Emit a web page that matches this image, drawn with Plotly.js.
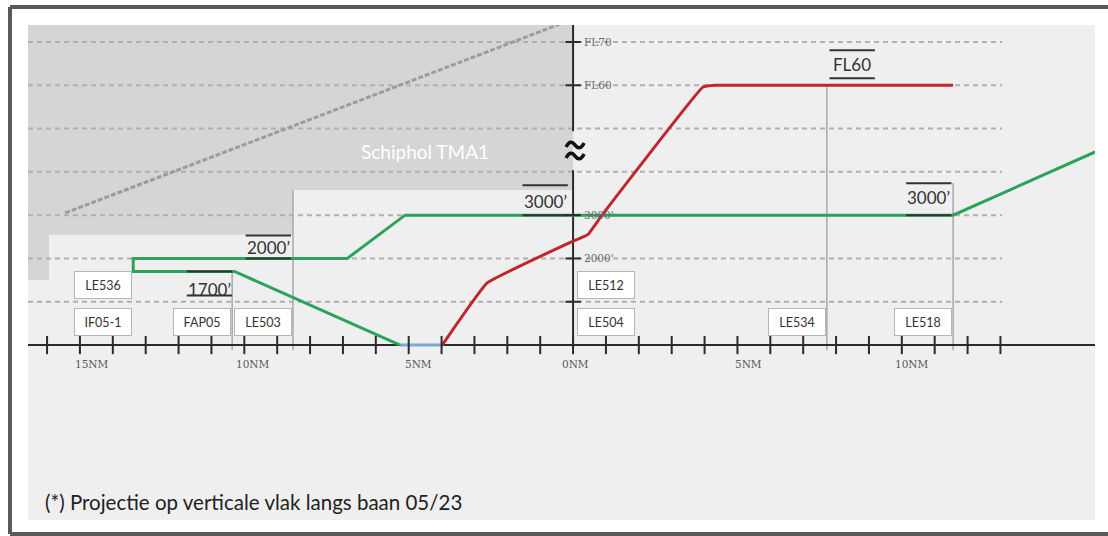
<!DOCTYPE html>
<html>
<head>
<meta charset="utf-8">
<script src="https://cdn.plot.ly/plotly-3.0.1.min.js"></script>
<style>html,body{margin:0;padding:0;background:#fff;overflow:hidden;}#chart{width:1108px;height:536px;overflow:hidden;}</style>
</head>
<body>
<div id="chart"></div>
<script>
// ---------- data (distances in NM from runway threshold, altitudes in ft) ----------
const xTickVals   = [-16,-15,-14,-13,-12,-11,-10,-9,-8,-7,-6,-5,-4,-3,-2,-1,0,1,2,3,4,5,6,7,8,9,10,11,12,13];
const xLabelVals  = [-15, -10, -5, 0, 5, 10];
const xLabelText  = ["15NM", "10NM", "5NM", "0NM", "5NM", "10NM"];
const yTickVals   = [1000, 2000, 3000, 6000, 7000];
const yLabelVals  = [2000, 3000, 6000, 7000];
const yLabelText  = ["2000'", "3000'", "FL60", "FL70"];
const gridLevels  = [1000, 2000, 3000, 4000, 5000, 6000, 7000];
const axisBreakAt = 4480;

// Schiphol TMA1 lower limits (steps)
const tmaStepX    = [-16.58, -15.94, -8.52, 0];
const tmaBase     = [1500, 2550, 3580];
const tmaSlopeX   = [-15.45, 0];
const tmaSlopeY   = [3050, 7530];

// approach profile (green)
const approachX   = [-5.26, -10.3, -13.38, -13.38, -6.87, -5.11, 11.56, 15.88];
const approachY   = [0, 1700, 1700, 2000, 2000, 3000, 3000, 4460];
// ground segment (blue)
const groundX     = [-5.26, -3.98];
const groundY     = [0, 0];
// departure profile (red)
const departX     = [-3.98, -2.62, 0, 0.45, 0.88, 3.95, 4.32, 11.56];
const departY     = [0, 1430, 2400, 2550, 3000, 5960, 6000, 6000];

// waypoints
const wpName      = ["LE536", "IF05-1", "FAP05", "LE503", "LE512", "LE504", "LE534", "LE518"];
const wpDist      = [-13.38, -13.38, -10.37, -8.52, 0, 0, 7.72, 11.56];
const wpRow       = [1, 0, 0, 0, 1, 0, 0, 0];
const wpSide      = ["right", "right", "right", "right", "left", "left", "right", "right"];

// vertical reference lines at waypoints
const vlineX      = [-10.37, -8.52, 7.72, 11.56];
const vlineTop    = [1700, 3580, 6000, 3740];

// altitude restrictions
const rLabel      = ["1700\u2019", "2000\u2019", "3000\u2019", "FL60", "3000\u2019"];
const rX          = [-11.06, -9.27, -0.85, 8.49, 10.82];
const rAlt        = [1700, 2000, 3000, 6000, 3000];

// ---------- styling / layout helpers ----------
const FTPX = 23.09;                 // ft per pixel (vertical)
const rTextShift  = [-18, 11, 14, 21, 18];
const rBarA       = [0, 23, 30, 35, 32];
const rBarB       = [-24, 0, 0, 7, 0];
const rHalfW      = 0.69;
const rowY        = [530, 1380];
const xLabelShift = [12, 9, 10, 2, 11, 10];
const GRID_END    = 13.05;
const X0 = -16.58, X1 = 15.876, Y0 = -4041, Y1 = 7392;

const traces = [];

// TMA polygon
(function(){
  const px = [tmaStepX[0]], py = [Y1 + 500];
  for (let i = 0; i < tmaBase.length; i++) {
    px.push(tmaStepX[i]);   py.push(tmaBase[i]);
    px.push(tmaStepX[i+1]); py.push(tmaBase[i]);
  }
  px.push(tmaStepX[tmaStepX.length-1]); py.push(Y1 + 500);
  traces.push({x: px, y: py, mode: 'lines', fill: 'toself', fillcolor: '#d5d5d5',
               line: {width: 0}, hoverinfo: 'skip', showlegend: false});
})();

// dashed grid lines
(function(){
  const gx = [], gy = [];
  gridLevels.forEach(v => { gx.push(X0, GRID_END, null); gy.push(v, v, null); });
  traces.push({x: gx, y: gy, mode: 'lines', line: {color: '#b0b0b0', width: 2, dash: '5px,4px'},
               hoverinfo: 'skip', showlegend: false});
})();

// diagonal dashed line inside TMA
traces.push({x: tmaSlopeX, y: tmaSlopeY, mode: 'lines',
             line: {color: '#9c9c9c', width: 3, dash: '5px,2px'}, hoverinfo: 'skip', showlegend: false});

// vertical waypoint lines
(function(){
  const vx = [], vy = [];
  vlineX.forEach((x, i) => { vx.push(x, x, null); vy.push(-120, vlineTop[i], null); });
  traces.push({x: vx, y: vy, mode: 'lines', line: {color: '#a8a8a8', width: 1.5},
               hoverinfo: 'skip', showlegend: false});
})();

// x axis line
traces.push({x: [X0, X1], y: [0, 0], mode: 'lines', line: {color: '#2b2b2b', width: 2},
             hoverinfo: 'skip', showlegend: false});
// y axis line with break
traces.push({x: [0, 0, null, 0, 0], y: [-60, 4040, null, 4940, Y1], mode: 'lines',
             line: {color: '#2b2b2b', width: 2}, hoverinfo: 'skip', showlegend: false});

// profiles
traces.push({x: approachX, y: approachY, mode: 'lines', line: {color: '#2ba35b', width: 3},
             hoverinfo: 'skip', showlegend: false});
traces.push({x: groundX, y: groundY, mode: 'lines', line: {color: '#7ea6d6', width: 3},
             hoverinfo: 'skip', showlegend: false});
traces.push({x: departX, y: departY, mode: 'lines', line: {color: '#c0272d', width: 3, shape: 'spline', smoothing: 0.25},
             hoverinfo: 'skip', showlegend: false});

// restriction bars
(function(){
  const bx = [], by = [];
  rX.forEach((x, i) => {
    [rBarA[i], rBarB[i]].forEach(off => {
      bx.push(x - rHalfW, x + rHalfW, null);
      by.push(rAlt[i] + off * FTPX, rAlt[i] + off * FTPX, null);
    });
  });
  traces.push({x: bx, y: by, mode: 'lines', line: {color: '#333333', width: 2},
               hoverinfo: 'skip', showlegend: false});
})();

// x ticks
traces.push({x: xTickVals, y: xTickVals.map(() => 0), mode: 'markers',
             marker: {symbol: 'line-ns', size: 13, line: {color: '#2b2b2b', width: 2}},
             hoverinfo: 'skip', showlegend: false, cliponaxis: false});
// y ticks
traces.push({x: yTickVals.map(() => 0), y: yTickVals, mode: 'markers',
             marker: {symbol: 'line-ew', size: 11, line: {color: '#2b2b2b', width: 2}},
             hoverinfo: 'skip', showlegend: false, cliponaxis: false});

const annotations = [];
// x tick labels
xLabelVals.forEach((v, i) => annotations.push({
  x: v, y: 0, xref: 'x', yref: 'y', text: xLabelText[i], showarrow: false,
  xshift: xLabelShift[i], yshift: -19, font: {family: 'DejaVu Serif', size: 10.5, color: '#5a5a5a'}
}));
// y tick labels
yLabelVals.forEach((v, i) => annotations.push({
  x: 0, y: v, xref: 'x', yref: 'y', text: yLabelText[i], showarrow: false,
  xanchor: 'left', xshift: 9, font: {family: 'DejaVu Serif', size: 10.5, color: '#6a6a6a'}
}));
// waypoint boxes
wpName.forEach((n, i) => annotations.push({
  x: wpDist[i], y: rowY[wpRow[i]], xref: 'x', yref: 'y', text: n, showarrow: false,
  xanchor: wpSide[i], yanchor: 'middle', xshift: wpSide[i] === 'left' ? 4 : -1,
  width: 54, height: 24, borderpad: 1, borderwidth: 1, bordercolor: '#b5b5b5', bgcolor: '#ffffff',
  font: {family: 'Lato', size: 12.5, color: '#333'}
}));
// restriction labels
rLabel.forEach((t, i) => annotations.push({
  x: rX[i], y: rAlt[i], xref: 'x', yref: 'y', text: t, showarrow: false,
  yshift: rTextShift[i], font: {family: 'Lato', size: 17, color: '#333'}
}));
// TMA name
annotations.push({x: -4.5, y: 4460, xref: 'x', yref: 'y', text: 'Schiphol TMA1', showarrow: false,
  font: {family: 'Lato', size: 19, color: '#ffffff'}});
// footnote
annotations.push({x: 0.0141, y: 0.036, xref: 'paper', yref: 'paper', xanchor: 'left', yanchor: 'middle',
  text: '(*) Projectie op verticale vlak langs baan 05/23', showarrow: false,
  font: {family: 'Lato', size: 20.5, color: '#222'}});

// axis-break symbol drawn as two tilde strokes (pixel-sized path anchored at the break)
const tilde = dy => `M -9,${dy-2} C -6,${dy+4} -3,${dy+4} 0,${dy} S 6,${dy-4} 9,${dy+2}`;
const breakShapes = [6, -5].map(dy => ({
  type: 'path', xref: 'x', yref: 'y', xsizemode: 'pixel', ysizemode: 'pixel',
  xanchor: 1 / 32.88 * 2, yanchor: axisBreakAt, path: tilde(dy),
  line: {color: '#111', width: 3.5}, fillcolor: 'rgba(0,0,0,0)', layer: 'above'
}));

const frame = {color: '#595959', width: 4};
const layout = {
  width: 1108, height: 536,
  margin: {l: 28, r: 13, t: 25, b: 16, pad: 0},
  paper_bgcolor: '#ffffff', plot_bgcolor: '#efefef',
  xaxis: {range: [X0, X1], visible: false, fixedrange: true},
  yaxis: {range: [Y0, Y1], visible: false, fixedrange: true},
  showlegend: false, hovermode: false,
  annotations: annotations,
  shapes: breakShapes.concat([
    {type: 'line', xref: 'paper', yref: 'paper', x0: -0.01687, x1: -0.01687, y0: -0.0283, y1: 1.0364, line: frame, layer: 'above'},
    {type: 'line', xref: 'paper', yref: 'paper', x0: -0.01687, x1: 1.0122, y0: 1.0364, y1: 1.0364, line: frame, layer: 'above'},
    {type: 'line', xref: 'paper', yref: 'paper', x0: -0.01687, x1: 1.0122, y0: -0.0283, y1: -0.0283, line: frame, layer: 'above'}
  ])
};

Plotly.newPlot('chart', traces, layout, {displayModeBar: false, staticPlot: true});
</script>
</body>
</html>
